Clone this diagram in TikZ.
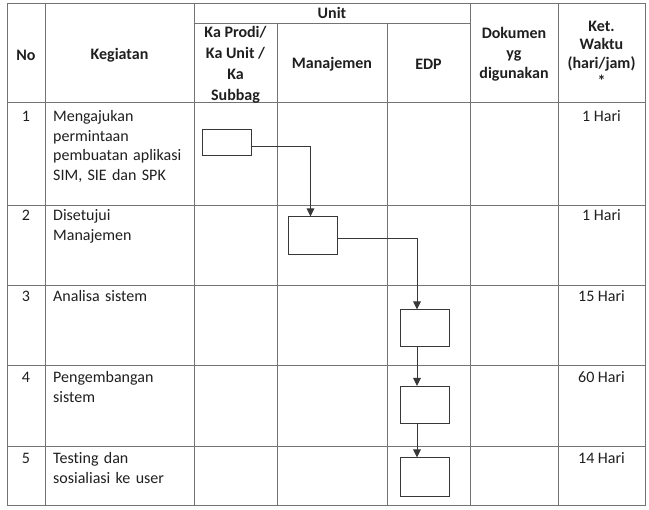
\documentclass[tikz,border=0pt]{standalone}
\usepackage{fontspec}
\setmainfont{Carlito}[Ligatures=NoCommon]
\usetikzlibrary{arrows.meta,positioning}

\begin{document}
\begin{tikzpicture}[x=1pt,y=-1pt,
    font=\fontsize{16}{19.5}\selectfont,
    rule/.style={draw=black!55,line width=0.8pt},
    hd/.style={font=\fontsize{16}{20}\selectfont\bfseries,align=center,text=black!88,inner sep=0pt},
    txt/.style={anchor=base west,align=left,text width=135pt,inner sep=0pt,text=black!88},
    num/.style={anchor=base,inner sep=0pt,text=black!88},
    act/.style={draw=black!78,line width=1pt,inner sep=0pt,minimum width=49pt},
    flow/.style={draw=black!78,line width=1pt,-{Triangle[length=8pt,width=7.5pt]}}]
  \useasboundingbox (0,0) rectangle (649,510);
  % table lines
  \draw[rule] (7,3) rectangle (645,505);
  \foreach \x in {45,194,470,558} \draw[rule] (\x,3) -- (\x,505);
  \foreach \x in {277,387} \draw[rule] (\x,23) -- (\x,505);
  \draw[rule] (194,23) -- (470,23);
  \foreach \y in {102,205,285,365,446} \draw[rule] (7,\y) -- (645,\y);

  % header
  \node[hd] (unit) at (332,13) {Unit};
  \node[hd] (no) at (26,55) {No};
  \node[hd] (kegiatan) at (119.5,55) {Kegiatan};
  \node[hd,font=\fontsize{16}{21}\selectfont\bfseries] (kaprodi) at (235.5,65) {Ka Prodi/\\Ka Unit /\\Ka\\Subbag};
  \node[hd] (manajemen) at (332,64) {Manajemen};
  \node[hd] (edp) at (428.5,64) {EDP};
  \node[hd] (dokumen) at (514,54) {Dokumen\\yg\\digunakan};
  \node[hd,font=\fontsize{16}{18.5}\selectfont\bfseries] (ket) at (601.5,54) {Ket.\\Waktu\\(hari/jam)\\*};

  % rows
  \foreach \y/\n/\kg/\t in {
      122/1/{Mengajukan\\permintaan\\pembuatan aplikasi\\SIM, SIE dan SPK}/{1 Hari},
      221/2/{Disetujui\\Manajemen}/{1 Hari},
      302/3/{Analisa sistem}/{15 Hari},
      383/4/{Pengembangan\\sistem}/{60 Hari},
      464/5/{Testing dan\\sosialiasi ke user}/{14 Hari}} {
    \node[num] (no\n) at (26,\y) {\n};
    \node[txt] (keg\n) at (53,\y) {\kg};
    \node[num] (waktu\n) at (601.5,\y) {\t};
  }

  % flow
  \node[act,minimum height=26pt] (s1) at (226.5,143) {};
  \node[act,minimum height=38pt] (s2) at (312.5,236) {};
  \node[act,minimum height=37pt] (s3) at (425,328.5) {};
  \node[act,minimum height=37pt] (s4) at (425,405) {};
  \node[act,minimum height=39pt] (s5) at (425,477.5) {};

  \draw[flow] ([yshift=-4pt]s1.east) -| ([xshift=-2pt]s2.north);
  \draw[flow] ([yshift=-3pt]s2.east) -| ([xshift=-8pt]s3.north);
  \draw[flow] ([xshift=-8pt]s3.south) -- ([xshift=-8pt]s4.north);
  \draw[flow] ([xshift=-8pt]s4.south) -- ([xshift=-8pt]s5.north);
\end{tikzpicture}
\end{document}
